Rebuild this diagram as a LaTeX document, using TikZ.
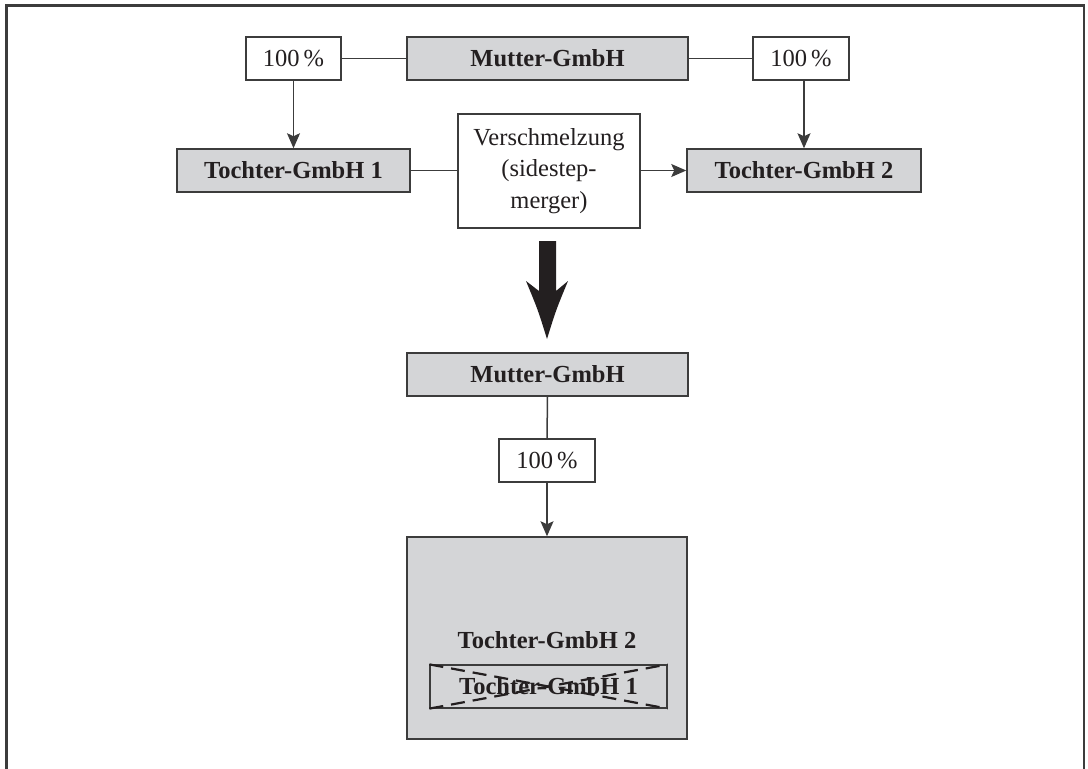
\documentclass[tikz,border=0pt]{standalone}
\usepackage{fontspec}
\setmainfont{Liberation Serif}
\usetikzlibrary{arrows.meta}
\definecolor{boxgray}{RGB}{212,213,215}
\definecolor{ink}{RGB}{35,31,32}
\definecolor{edge}{RGB}{60,60,60}
\tikzset{
  base/.style={rectangle, draw=edge, line width=1.5pt, text=ink, inner sep=0pt,
    font=\fontsize{24.5}{31.7}\selectfont},
  pct/.style={base, fill=white},
  firm/.style={base, fill=boxgray, font=\fontsize{24.5}{31.7}\selectfont\bfseries},
  conn/.style={draw=edge, line width=1.5pt},
  arr/.style={conn, -{Stealth[length=15pt,width=13pt,inset=3pt]}},
  frameline/.style={draw=edge, line width=2.2pt},
  strike/.style={draw=ink, line width=2.2pt, dash pattern=on 14pt off 8pt},
}
\begin{document}
\begin{tikzpicture}[x=1pt,y=-1pt]
\useasboundingbox (0,0) rectangle (1088,769);
\draw[frameline] (6.5,769) -- (6.5,5.5) -- (1084,5.5) -- (1084,769);

% top row
\node[pct, minimum width=95pt, minimum height=43pt] (p1) at (293.5,58.5) {100\,\%};
\node[firm, minimum width=281pt, minimum height=43pt] (m1) at (547.5,58.5) {Mutter-GmbH};
\node[pct, minimum width=96pt, minimum height=43pt] (p2) at (801,58.5) {100\,\%};

% second row
\node[firm, minimum width=233pt, minimum height=43pt] (t1) at (293.5,170.5) {Tochter-GmbH 1};
\node[firm, minimum width=234pt, minimum height=43pt] (t2) at (804,170.5) {Tochter-GmbH 2};
\node[pct, minimum width=182pt, minimum height=114pt, align=center] (v) at (549,171)
  {Verschmelzung\\(sidestep-\\merger)};

\draw[conn] (p1.east) -- (m1.west);
\draw[conn] (m1.east) -- (p2.west);
\draw[arr] (p1.south) -- (t1.north);
\draw[arr] (804,80) -- (t2.north);
\draw[conn] (t1.east) -- (v.west |- t1.east);
\draw[arr] (v.east |- t2.west) -- (t2.west);

% big arrow
\fill[ink] (539,241) -- (556,241) -- (556,291) -- (568,281)
  .. controls (556,310) .. (547,339)
  .. controls (538,310) .. (526,281) -- (539,291) -- cycle;

% lower part
\node[firm, minimum width=281pt, minimum height=43pt] (m2) at (547.5,374.5) {Mutter-GmbH};
\node[pct, minimum width=96pt, minimum height=43pt] (p3) at (547,460.5) {100\,\%};
\node[firm, minimum width=280pt, minimum height=202pt] (big) at (547,638) {};
\node[text=ink, font=\fontsize{24.5}{31.7}\selectfont\bfseries] (t2b) at (547,640) {Tochter-GmbH 2};
\node[rectangle, draw=edge, line width=1.2pt, text=ink, inner sep=0pt,
  minimum width=237pt, minimum height=43pt,
  font=\fontsize{24.5}{31.7}\selectfont\bfseries] (t1b) at (548.5,686.5) {Tochter-GmbH 1};
\draw[strike] (t1b.north west) -- (t1b.south east);
\draw[strike] (t1b.south west) -- (t1b.north east);

\draw[conn] (m2.south) -- (p3.north);
\draw[arr] (p3.south) -- (big.north);
\end{tikzpicture}
\end{document}
